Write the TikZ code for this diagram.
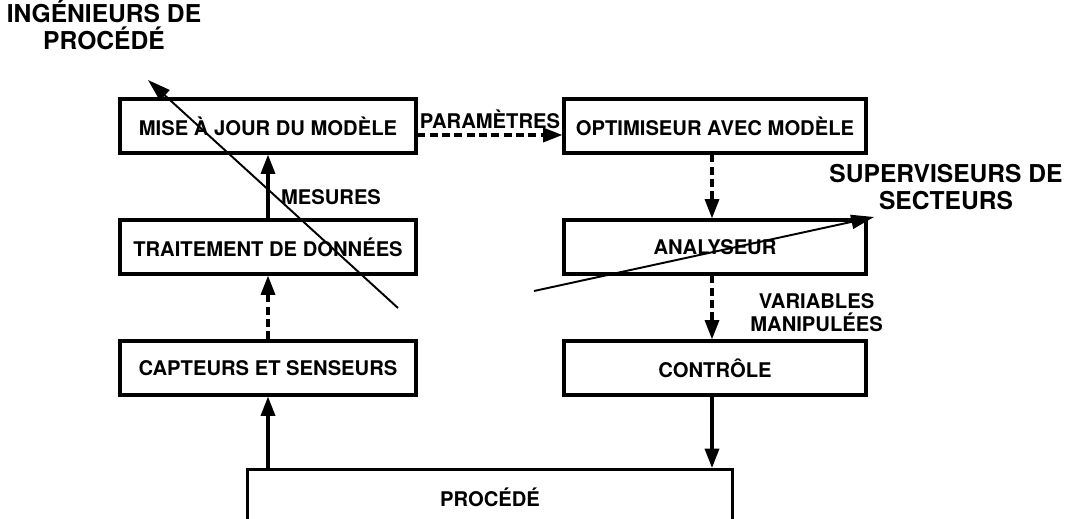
\documentclass[tikz,border=0pt]{standalone}
\usepackage{fontspec}
\setmainfont{TeX Gyre Heros}
\usetikzlibrary{arrows.meta}

\begin{document}
\begin{tikzpicture}[x=0.02cm,y=-0.02cm,
    bloc/.style = {draw, line width=1.8pt, minimum width=5.92cm, minimum height=1.08cm,
                   font=\fontsize{11.5}{13}\selectfont\bfseries},
    etiq/.style = {font=\fontsize{11.5}{13}\selectfont\bfseries, align=center, inner sep=0pt},
    acteur/.style = {font=\fontsize{14}{15.5}\selectfont\bfseries, align=center, inner sep=0pt},
    fl/.style = {-{Triangle[length=11pt,width=8pt]}, line width=1.8pt},
    tirets/.style = {dash pattern=on 4.5pt off 2.5pt},
    node distance={2.42cm}]
    \clip (0,0) rectangle (1065,518);
    % left column
    \node[bloc] (maj) at (268,126) {MISE À JOUR DU MODÈLE};
    \node[bloc] (trait) [below of=maj] {TRAITEMENT DE DONNÉES};
    \node[bloc] (capt) [below of=trait] {CAPTEURS ET SENSEURS};
    % right column
    \node[bloc, minimum width=6.04cm] (opt) at (715,126) {OPTIMISEUR AVEC MODÈLE};
    \node[bloc, minimum width=6.04cm] (anal) [below of=opt] {ANALYSEUR};
    \node[bloc, minimum width=6.04cm] (ctrl) [below of=anal] {CONTRÔLE};
    % process, open at the bottom
    \node[bloc, minimum width=9.7cm, minimum height=2cm, anchor=north] (proc) at (490,468) {};
    \node[font=\fontsize{11.5}{13}\selectfont\bfseries] at (490,497) {PROCÉDÉ};
    % labels
    \node[acteur] (ing) at (104,25) {INGÉNIEURS DE\\PROCÉDÉ};
    \node[acteur] (sup) at (946,187) {SUPERVISEURS DE\\SECTEURS};
    \node[etiq] (mes) at (331,197) {MESURES};
    \node[etiq, anchor=south] (par) at (490,129) {PARAMÈTRES};
    \node[etiq, anchor=west] (var) at (750,313) {VARIABLES\\MANIPULÉES};
    % connectors
    \draw[fl] (capt.south |- proc.north) -- (capt.south);
    \draw[fl, tirets] (capt) -- (trait);
    \draw[fl] (trait) -- (maj);
    \draw[fl, tirets] (maj.east |- 0,135) -- (opt.west |- 0,135);
    \draw[fl, tirets] (opt.south -| 712,0) -- (anal.north -| 712,0);
    \draw[fl, tirets] (anal.south -| 712,0) -- (ctrl.north -| 712,0);
    \draw[fl] (ctrl.south -| 712,0) -- (proc.north -| 712,0);
    % crossing arrows
    \coordinate (ingdep) at (398,308);
    \coordinate (ingarr) at (148,80);
    \coordinate (supdep) at (534,291);
    \coordinate (suparr) at (874,217);
    \draw[-{Triangle[length=13pt,width=8pt]}, line width=1.1pt] (ingdep) -- (ingarr);
    \draw[-{Triangle[length=13pt,width=8pt]}, line width=1.1pt] (supdep) -- (suparr);
\end{tikzpicture}
\end{document}
